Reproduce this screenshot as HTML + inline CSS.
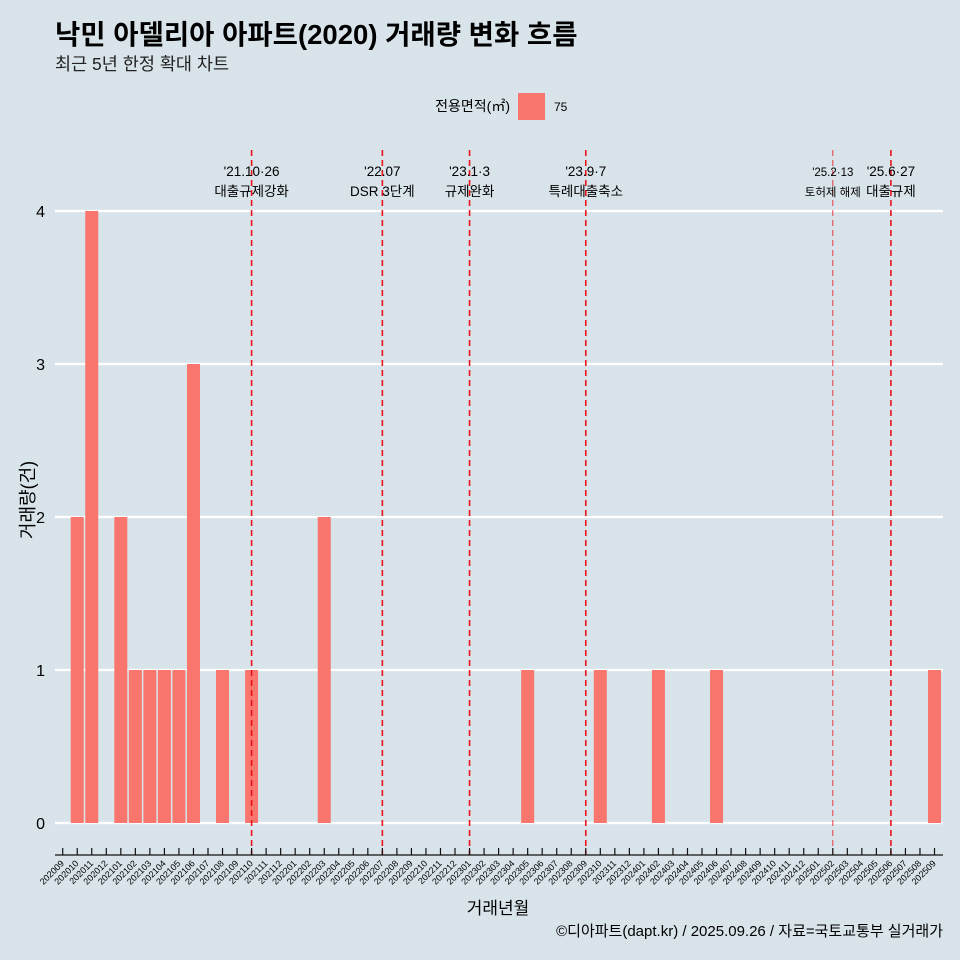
<!DOCTYPE html>
<html><head><meta charset="utf-8"><style>
body{margin:0;background:#d8e4ea;}
svg{display:block;font-family:"Liberation Sans","Noto Sans CJK KR",sans-serif;}
</style></head><body>
<svg id="c" width="960" height="960" viewBox="0 0 960 960">
<rect width="960" height="960" fill="#d8e4ea"/>
<text x="55" y="44" font-size="27.5" font-weight="bold" fill="#000">낙민 아델리아 아파트(2020) 거래량 변화 흐름</text>
<text x="55" y="70" font-size="17.5" fill="#222">최근 5년 한정 확대 차트</text>
<g>
<text x="510" y="111" font-size="14" text-anchor="end">전용면적(㎡)</text>
<rect x="518" y="93" width="27" height="27" fill="#f8766d"/>
<text x="554" y="111" font-size="12">75</text>
</g>
<g id="grid"></g><g id="bars"></g><g id="vlines"></g><g id="axes"></g>
<text transform="translate(34,500) rotate(-90)" font-size="18" text-anchor="middle">거래량(건)</text>
<text x="498" y="914" font-size="17" text-anchor="middle">거래년월</text>
<text x="943" y="936" font-size="15" text-anchor="end">©디아파트(dapt.kr) / 2025.09.26 / 자료=국토교통부 실거래가</text>
</svg>
<script>
const months=[];for(let y=2020;y<=2025;y++)for(let m=1;m<=12;m++){const k=y*100+m;if(k>=202009&&k<=202509)months.push(String(k));}
const barMonths=["202010","202011","202101","202102","202103","202104","202105","202106","202108","202110","202203","202305","202310","202402","202406","202509"];
const barValues=[2,4,2,1,1,1,1,3,1,1,2,1,1,1,1,1];
const yTicks=[0,1,2,3,4];
const eventMonths=["202110","202207","202301","202309","202502","202506"];
const eventLine1=["'21.10·26","'22.07","'23.1·3","'23.9·7","'25.2·13","'25.6·27"];
const eventLine2=["대출규제강화","DSR 3단계","규제완화","특례대출축소","토허제 해제","대출규제"];
const NS="http://www.w3.org/2000/svg";
function x(m){return 62.7+months.indexOf(m)*14.53;}
function y(v){return 823-v*153;}
function mk(t,a,p){const e=document.createElementNS(NS,t);for(const k in a)e.setAttribute(k,a[k]);document.getElementById(p).appendChild(e);return e;}
yTicks.forEach(v=>{
 let l=mk('line',{x1:55,x2:943,y1:y(v),y2:y(v),stroke:'#fff','stroke-width':2.2},'grid');
 
 
 let t=mk('text',{x:45,y:y(v)+6,'font-size':16,'text-anchor':'end'},'grid');t.textContent=v;
 
 
});
barMonths.forEach((m,i)=>{
 let r=mk('rect',{x:x(m)-6.5,y:y(barValues[i]),width:13,height:y(0)-y(barValues[i]),fill:'#f8766d'},'bars');
 
 
});
eventMonths.forEach((m,i)=>{
 const sm=m==="202502";
 let l=mk('line',{x1:x(m),x2:x(m),y1:150,y2:855,stroke:'#e8141c','stroke-width':sm?1:1.6,'stroke-dasharray':'6,4',opacity:sm?0.8:1},'vlines');
 
 
 let t1=mk('text',{x:x(m),y:176,'font-size':sm?11.5:13.5,'text-anchor':'middle'},'vlines');t1.textContent=eventLine1[i];
 
 
 let t2=mk('text',{x:x(m),y:196,'font-size':sm?11.5:13.5,'text-anchor':'middle'},'vlines');t2.textContent=eventLine2[i];
 
 
});
let ax=mk('line',{x1:55,x2:943,y1:855,y2:855,stroke:'#111','stroke-width':1.2},'axes');


months.forEach(m=>{
 let tk=mk('line',{x1:x(m),x2:x(m),y1:848,y2:855,stroke:'#111','stroke-width':1.2},'axes');
 
 
 let t=mk('text',{x:x(m)+2,y:864,'font-size':9,'text-anchor':'end',transform:`rotate(-45 ${x(m)+2} 864)`},'axes');t.textContent=m;
 
 
});
</script>
</body></html>
